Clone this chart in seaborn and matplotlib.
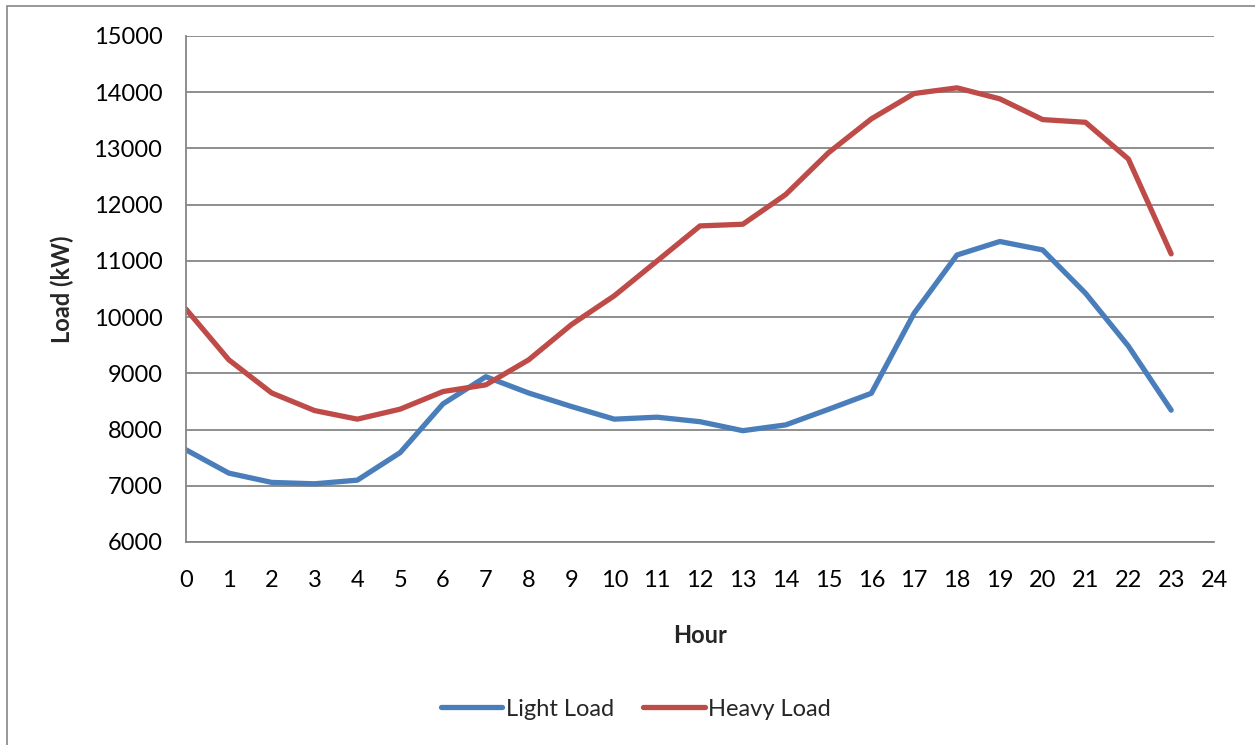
import numpy as np
import pandas as pd
import matplotlib
matplotlib.use("Agg")
import matplotlib.pyplot as plt
import seaborn as sns
from matplotlib.patches import Rectangle

hours = list(range(24))
light_load = [7640, 7225, 7060, 7035, 7100, 7590, 8457, 8940, 8650, 8410,
              8185, 8220, 8140, 7980, 8083, 8360, 8645, 10070, 11105, 11345,
              11195, 10425, 9485, 8345]
heavy_load = [10142, 9240, 8651, 8338, 8185, 8363, 8676, 8795, 9240, 9868,
              10380, 11000, 11622, 11652, 12180, 12924, 13526, 13977, 14078, 13882,
              13513, 13465, 12813, 11125]
series_names = ["Light Load", "Heavy Load"]
x_ticks = list(range(0, 25))
y_ticks = list(range(6000, 15001, 1000))

df = pd.DataFrame({
    "Hour": hours * 2,
    "Load": light_load + heavy_load,
    "Series": [series_names[0]] * 24 + [series_names[1]] * 24,
})

sns.set_theme(style="white")
plt.rcParams['font.family'] = ['Lato', 'DejaVu Sans']

fig = plt.figure(figsize=(12.55, 7.45), dpi=100)
ax = fig.add_axes([186/1255, 1 - 542/745, (1214-186)/1255, (542-36)/745])

palette = {"Light Load": "#4A7EBB", "Heavy Load": "#BE4B48"}
sns.lineplot(data=df, x="Hour", y="Load", hue="Series", palette=palette,
             linewidth=3.8, ax=ax, legend=True)

ax.set_xlim(0, 24)
ax.set_ylim(6000, 15000)
ax.set_xticks(x_ticks)
ax.set_yticks(y_ticks)
ax.set_xticklabels([str(t) for t in x_ticks])
ax.set_yticklabels([str(t) for t in y_ticks])
ax.yaxis.grid(True, color="#868686", linewidth=1.3)
ax.xaxis.grid(False)
for s in ["top", "right"]:
    ax.spines[s].set_visible(False)
for s in ["left", "bottom"]:
    ax.spines[s].set_color("#868686")
    ax.spines[s].set_linewidth(1.3)
ax.tick_params(axis="both", which="both", labelsize=17, colors="#868686",
               labelcolor="black", length=7, width=1.3)
ax.tick_params(axis="y", direction="out", pad=10)
ax.tick_params(axis="x", direction="out", pad=13)
ax.set_axisbelow(True)

ax.set_xlabel("Hour", fontsize=17, fontweight="bold", labelpad=24)
ax.set_ylabel("Load (kW)", fontsize=17, fontweight="bold", labelpad=14)

handles, labels = ax.get_legend_handles_labels()
ax.legend(handles, labels, loc="center", bbox_to_anchor=(636/1255, 1 - 709/745),
          bbox_transform=fig.transFigure, ncol=2, frameon=False,
          fontsize=17, handlelength=2.6, handletextpad=0.15, columnspacing=1.25)

fig.patches.append(Rectangle((7/1255, -0.01), 1.0, 1 - 6/745 + 0.01,
                             transform=fig.transFigure, fill=False,
                             edgecolor="#868686", linewidth=1.2))

fig.savefig("out.png", dpi=100)
